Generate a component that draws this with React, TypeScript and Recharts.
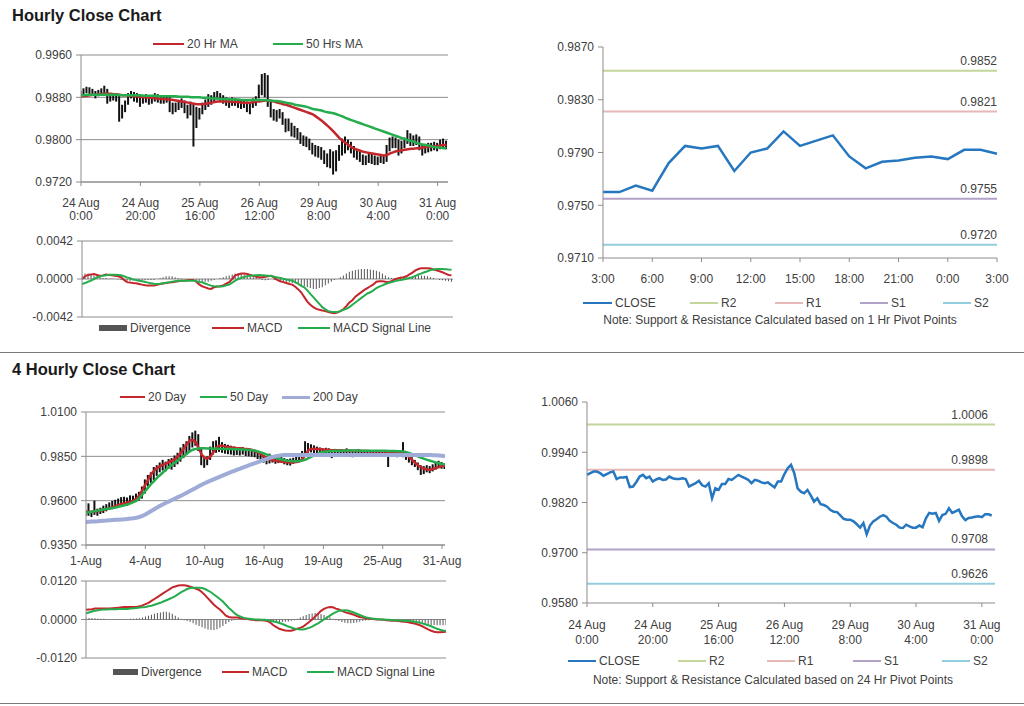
import { ComposedChart, Line, Bar, XAxis, YAxis, CartesianGrid, ReferenceLine } from 'recharts'

const RED = '#c3262b'
const GREEN = '#25ad4d'
const LAVENDER = '#9eacd7'
const BLUE = '#2677bf'
const AXIS = '#8c8c8c'
const TEXT = '#404040'
const PIVOT_COLORS = ['#c3d69b', '#e6b9b8', '#b3a2c7', '#93cddd']

// ---- hourly series, 24 Aug 0:00 -> 31 Aug 3:00 (price in 0.0001 units) ----
const hourClose = [
  9886, 9890, 9894, 9894, 9890, 9884, 9888, 9892, 9894, 9876,
  9880, 9880, 9881, 9857, 9858, 9869, 9882, 9886, 9878, 9882,
  9870, 9875, 9878, 9874, 9875, 9882, 9878, 9876, 9876, 9878,
  9876, 9858, 9862, 9866, 9872, 9861, 9858, 9866, 9830, 9854,
  9850, 9864, 9864, 9876, 9874, 9880, 9886, 9882, 9878, 9874,
  9866, 9874, 9872, 9868, 9866, 9868, 9862, 9856, 9870, 9870,
  9888, 9902, 9910, 9890, 9854, 9846, 9842, 9850, 9837, 9822,
  9830, 9816, 9814, 9810, 9802, 9798, 9797, 9789, 9781, 9779,
  9779, 9775, 9768, 9760, 9771, 9744, 9765, 9775, 9780, 9786,
  9790, 9786, 9776, 9771, 9767, 9760, 9759, 9767, 9763, 9760,
  9760, 9765, 9761, 9782, 9795, 9793, 9795, 9776, 9790, 9793,
  9806, 9795, 9799, 9803, 9787, 9778, 9783, 9784, 9786, 9787,
  9785, 9792, 9792, 9789,
]
const hourHigh = [
  9892, 9897, 9900, 9899, 9896, 9892, 9894, 9897, 9902, 9896,
  9886, 9888, 9887, 9884, 9866, 9874, 9888, 9892, 9890, 9888,
  9884, 9882, 9886, 9882, 9882, 9888, 9886, 9882, 9882, 9884,
  9882, 9870, 9870, 9874, 9878, 9874, 9866, 9872, 9868, 9862,
  9860, 9870, 9876, 9886, 9884, 9890, 9892, 9888, 9884, 9880,
  9878, 9880, 9878, 9876, 9874, 9876, 9872, 9870, 9878, 9882,
  9904, 9924, 9926, 9922, 9872, 9858, 9856, 9858, 9852, 9840,
  9840, 9832, 9826, 9822, 9814, 9808, 9806, 9802, 9794, 9790,
  9788, 9786, 9780, 9774, 9782, 9778, 9780, 9790, 9802, 9806,
  9800, 9796, 9788, 9782, 9778, 9772, 9770, 9776, 9774, 9770,
  9768, 9772, 9770, 9790, 9804, 9806, 9804, 9800, 9798, 9804,
  9818, 9812, 9808, 9810, 9806, 9790, 9792, 9794, 9794, 9796,
  9794, 9800, 9802, 9798,
]
const hourLow = [
  9880, 9884, 9888, 9886, 9884, 9878, 9882, 9886, 9888, 9868,
  9872, 9874, 9872, 9834, 9840, 9852, 9866, 9878, 9872, 9870,
  9862, 9868, 9870, 9866, 9868, 9872, 9870, 9868, 9868, 9870,
  9852, 9848, 9852, 9856, 9860, 9850, 9840, 9846, 9787, 9822,
  9838, 9848, 9856, 9862, 9866, 9872, 9876, 9872, 9868, 9864,
  9860, 9864, 9864, 9860, 9858, 9860, 9852, 9848, 9860, 9864,
  9878, 9884, 9880, 9862, 9842, 9836, 9834, 9840, 9828, 9814,
  9816, 9806, 9804, 9800, 9792, 9788, 9786, 9780, 9772, 9768,
  9766, 9762, 9754, 9748, 9746, 9734, 9740, 9760, 9770, 9774,
  9780, 9774, 9766, 9762, 9758, 9752, 9752, 9756, 9754, 9752,
  9752, 9756, 9754, 9758, 9778, 9784, 9784, 9770, 9774, 9784,
  9792, 9788, 9788, 9790, 9780, 9770, 9774, 9776, 9778, 9780,
  9778, 9782, 9784, 9782,
]
const hourMa20 = [
  9882, 9882, 9883, 9884, 9885, 9885, 9886, 9886, 9887, 9887,
  9887, 9886, 9886, 9885, 9884, 9884, 9883, 9883, 9882, 9882,
  9881, 9880, 9880, 9879, 9879, 9878, 9878, 9877, 9877, 9876,
  9876, 9875, 9874, 9873, 9872, 9871, 9870, 9869, 9868, 9867,
  9867, 9867, 9868, 9869, 9870, 9871, 9872, 9872, 9872, 9872,
  9872, 9871, 9871, 9871, 9870, 9870, 9870, 9870, 9871, 9872,
  9872, 9873, 9874, 9874, 9873, 9872, 9870, 9869, 9867, 9866,
  9864, 9862, 9860, 9858, 9856, 9854, 9852, 9850, 9848, 9844,
  9840, 9836, 9831, 9826, 9821, 9815, 9809, 9803, 9798, 9794,
  9790, 9786, 9783, 9781, 9779, 9777, 9776, 9775, 9774, 9773,
  9772, 9771, 9770, 9771, 9774, 9776, 9778, 9779, 9780, 9781,
  9782, 9783, 9783, 9784, 9784, 9785, 9786, 9786, 9787, 9787,
  9788, 9789, 9790, 9790,
]
const hourMa50 = [
  9884, 9884, 9885, 9885, 9885, 9885, 9885, 9885, 9885, 9885,
  9885, 9885, 9885, 9884, 9884, 9884, 9884, 9884, 9884, 9884,
  9884, 9883, 9883, 9883, 9883, 9883, 9882, 9882, 9882, 9882,
  9882, 9882, 9882, 9881, 9881, 9881, 9881, 9880, 9880, 9880,
  9880, 9879, 9879, 9879, 9878, 9878, 9878, 9877, 9877, 9877,
  9876, 9876, 9876, 9876, 9875, 9875, 9875, 9875, 9875, 9875,
  9875, 9875, 9875, 9874, 9874, 9873, 9873, 9872, 9871, 9870,
  9869, 9868, 9866, 9865, 9864, 9863, 9862, 9860, 9858, 9857,
  9856, 9855, 9853, 9852, 9851, 9850, 9848, 9846, 9844, 9841,
  9839, 9837, 9835, 9833, 9831, 9829, 9827, 9825, 9823, 9821,
  9819, 9817, 9815, 9813, 9811, 9809, 9807, 9805, 9803, 9801,
  9799, 9798, 9796, 9794, 9792, 9791, 9790, 9789, 9787, 9786,
  9785, 9785, 9784, 9784,
]
// MACD panel values in 0.0001 units
const hourMacd = [
  0, 3, 4.5, 5, 5.5, 4.5, 3.5, 4, 5, 4.5,
  4, 3.5, 3, 2, -1, -3.5, -4, -4.5, -4.8, -5.5,
  -6.2, -6.8, -7.2, -7.3, -7.3, -6.5, -5.5, -5, -4.5, -4,
  -3.7, -3, -2.5, -2, -1.8, -1.5, -1.2, -1.1, -3, -6,
  -8, -9.2, -10.5, -11, -9, -8.4, -8, -7, -5, -3.5,
  0, 4, 5, 6, 6, 5.5, 4.5, 3.5, 2.5, 1.8,
  2, 2.6, 3, 3.5, 1.5, -1, -2.5, -3.5, -4.5, -5.5,
  -6.2, -8.5, -11.5, -15, -20, -25, -28.5, -31, -33, -34,
  -34.8, -35.5, -36.5, -37.2, -37.7, -37, -35.5, -33.5, -30, -26,
  -23.5, -19.5, -17, -14.5, -12, -10, -8, -6, -3, -2.6,
  -2.6, -3, -3.5, -2.5, -0.5, 0.5, 1.5, 2, 3, 5,
  7, 9.5, 11, 12, 12, 12, 11.5, 10.5, 9.5, 8.5,
  7.5, 6, 4.5, 4,
]
const hourSignal = [
  -5.5, -4.5, -3, -1.8, 0, 1.8, 2.8, 3.7, 4.2, 4.8,
  4.8, 4.6, 4.4, 4.2, 3, 1.8, 0.8, -0.4, -1.2, -2,
  -2.6, -3.3, -4, -4.8, -5.2, -5.5, -5.3, -4.8, -4.2, -3.6,
  -2.9, -2.4, -2, -1.8, -1.8, -1.8, -1.8, -1.8, -2.4, -3.3,
  -3.7, -5, -6.2, -7.3, -8, -8.4, -8.4, -8, -7, -6.2,
  -4, -1.8, -0.2, 1.1, 2.2, 3.2, 3.7, 4, 4.2, 4.4,
  4.2, 4, 3.7, 3.2, 2.5, 1.8, 1, 0.2, -0.5, -1.1,
  -2, -3.5, -5.5, -7.5, -9.2, -12.5, -16.5, -20, -23.8, -27.5,
  -31.1, -33.5, -35.5, -36.2, -36.6, -36.4, -35.5, -34, -33, -31,
  -28.5, -26, -23.5, -20.9, -18.5, -16, -14.7, -12.5, -10, -8.4,
  -7, -5.5, -4.5, -3.5, -2.6, -1.8, -1.1, -0.5, 0.2, 1,
  2, 3.5, 5, 6.2, 7.5, 8.6, 9.9, 10.5, 11, 11,
  11, 10.8, 10.5, 10.3,
]
const hourDiv = [
  5, 6, 6, 5, 4, 3, 2, 1, 1, 0.5,
  0.5, 0, -0.5, -1, -1.5, -2, -2.5, -2, -2, -2,
  -2, -1.5, -1, -1, -1, 0, 1, 2, 3, 3,
  3, 2, 1, 0.5, 0, 0, -1, -1.5, -2, -3,
  -3, -3, -3, -2, -1, 0, 1, 2, 3, 4,
  5, 6, 6.5, 6, 5, 4, 3, 2, 1, 0,
  -1, -1.5, -1, 0, -1, -2, -2.5, -3, -3.5, -4,
  -4.5, -5, -6, -7, -8, -9, -10, -11, -11, -10,
  -9, -7, -5, -3, -1, 0, 2, 4, 6, 8,
  9, 10, 10.5, 11, 11, 11, 10.5, 10, 9, 8,
  6, 4, 2, 1, 0.5, 0.5, 1, 1.5, 2, 2.5,
  3, 3.5, 4, 4, 3.5, 3, 2, 1, 0, -1,
  -1.5, -2, -2.5, -3,
]
const hourTickDates = ['24 Aug', '24 Aug', '25 Aug', '26 Aug', '29 Aug', '30 Aug', '31 Aug']
const hourTickTimes = ['0:00', '20:00', '16:00', '12:00', '8:00', '4:00', '0:00']
const lastDayHours = [
  '3:00', '4:00', '5:00', '6:00', '7:00', '8:00', '9:00', '10:00', '11:00', '12:00',
  '13:00', '14:00', '15:00', '16:00', '17:00', '18:00', '19:00', '20:00', '21:00', '22:00',
  '23:00', '0:00', '1:00', '2:00', '3:00',
]
const hourPriceTicks = [0.972, 0.98, 0.988, 0.996]
const hourMacdTicks = [-0.0042, 0, 0.0042]
const lastDayTicks = [0.971, 0.975, 0.979, 0.983, 0.987]
const dayChartTicks = [0.958, 0.97, 0.982, 0.994, 1.006]
const pivotNames = ['R2', 'R1', 'S1', 'S2']
const pivot1h = [0.9852, 0.9821, 0.9755, 0.972]
const pivot24h = [1.0006, 0.9898, 0.9708, 0.9626]

// ---- 4 hourly series, 1 Aug -> 31 Aug ----
const fourHigh = [
  9548, 9585, 9540, 9600, 9555, 9560, 9572, 9580, 9590, 9598,
  9605, 9612, 9620, 9622, 9618, 9630, 9628, 9640, 9650, 9680,
  9720, 9745, 9760, 9790, 9800, 9815, 9830, 9820, 9835, 9840,
  9855, 9870, 9900, 9920, 9935, 9965, 9985, 9995, 9975, 9900,
  9840, 9850, 9905, 9935, 9940, 9960, 9930, 9920, 9915, 9910,
  9905, 9900, 9898, 9902, 9895, 9890, 9888, 9885, 9875, 9865,
  9858, 9850, 9865, 9850, 9848, 9845, 9850, 9840, 9835, 9838,
  9842, 9850, 9860, 9880, 9935, 9925, 9918, 9912, 9905, 9900,
  9895, 9898, 9895, 9890, 9892, 9888, 9890, 9885, 9895, 9888,
  9882, 9885, 9890, 9886, 9882, 9882, 9885, 9880, 9878, 9876,
  9878, 9875, 9872, 9874, 9870, 9880, 9880, 9930, 9870, 9860,
  9845, 9830, 9815, 9800, 9795, 9800, 9795, 9805, 9815, 9825,
  9818, 9812,
]
const fourLow = [
  9512, 9515, 9508, 9520, 9515, 9525, 9530, 9540, 9548, 9552,
  9560, 9565, 9575, 9578, 9570, 9582, 9588, 9592, 9600, 9612,
  9640, 9680, 9700, 9715, 9740, 9760, 9770, 9765, 9780, 9775,
  9790, 9805, 9820, 9840, 9860, 9880, 9900, 9910, 9880, 9800,
  9785, 9800, 9830, 9860, 9870, 9875, 9870, 9865, 9862, 9860,
  9855, 9858, 9855, 9860, 9852, 9850, 9848, 9845, 9835, 9825,
  9815, 9805, 9810, 9815, 9808, 9812, 9815, 9805, 9800, 9798,
  9808, 9815, 9825, 9840, 9860, 9870, 9872, 9868, 9865, 9860,
  9850, 9858, 9862, 9840, 9855, 9860, 9862, 9858, 9860, 9862,
  9845, 9858, 9860, 9862, 9858, 9858, 9860, 9855, 9858, 9852,
  9855, 9850, 9790, 9852, 9848, 9845, 9850, 9845, 9830, 9815,
  9800, 9790, 9772, 9745, 9750, 9760, 9755, 9765, 9775, 9785,
  9780, 9778,
]
const fourMa20 = [
  9535, 9537, 9538, 9540, 9542, 9545, 9549, 9553, 9558, 9563,
  9570, 9576, 9581, 9585, 9590, 9594, 9600, 9610, 9630, 9660,
  9690, 9720, 9750, 9770, 9785, 9795, 9803, 9810, 9818, 9825,
  9835, 9850, 9870, 9895, 9920, 9940, 9942, 9930, 9895, 9860,
  9842, 9838, 9850, 9876, 9900, 9910, 9910, 9905, 9902, 9900,
  9898, 9896, 9895, 9893, 9892, 9890, 9886, 9880, 9872, 9862,
  9850, 9840, 9832, 9828, 9825, 9822, 9820, 9818, 9816, 9815,
  9816, 9818, 9822, 9835, 9860, 9885, 9892, 9893, 9892, 9890,
  9888, 9887, 9886, 9885, 9885, 9884, 9884, 9883, 9883, 9882,
  9882, 9881, 9881, 9880, 9880, 9880, 9879, 9879, 9878, 9878,
  9877, 9877, 9876, 9875, 9875, 9874, 9872, 9870, 9860, 9845,
  9828, 9812, 9798, 9788, 9780, 9776, 9775, 9778, 9784, 9790,
  9795, 9797,
]
const fourMa50 = [
  9532, 9535, 9538, 9541, 9544, 9547, 9550, 9553, 9556, 9559,
  9562, 9566, 9570, 9574, 9578, 9585, 9592, 9600, 9615, 9635,
  9655, 9675, 9695, 9712, 9730, 9745, 9760, 9775, 9790, 9803,
  9815, 9828, 9840, 9852, 9865, 9878, 9887, 9892, 9894, 9895,
  9895, 9894, 9894, 9893, 9893, 9893, 9892, 9892, 9891, 9891,
  9890, 9890, 9889, 9888, 9887, 9886, 9884, 9881, 9877, 9872,
  9866, 9860, 9853, 9847, 9841, 9836, 9832, 9828, 9825, 9823,
  9822, 9822, 9823, 9826, 9832, 9840, 9848, 9856, 9864, 9870,
  9874, 9877, 9879, 9880, 9881, 9882, 9882, 9883, 9883, 9883,
  9883, 9883, 9883, 9882, 9882, 9882, 9882, 9882, 9881, 9881,
  9881, 9881, 9880, 9880, 9880, 9879, 9879, 9878, 9874, 9868,
  9862, 9855, 9848, 9842, 9836, 9830, 9825, 9820, 9815, 9811,
  9807, 9805,
]
const fourMa200 = [
  9480, 9481, 9482, 9483, 9484, 9486, 9487, 9488, 9490, 9491,
  9492, 9493, 9494, 9495, 9497, 9499, 9501, 9504, 9508, 9514,
  9522, 9532, 9542, 9552, 9562, 9571, 9580, 9588, 9596, 9604,
  9612, 9620, 9628, 9636, 9645, 9654, 9663, 9672, 9681, 9690,
  9698, 9706, 9713, 9720, 9727, 9734, 9741, 9748, 9755, 9762,
  9768, 9775, 9781, 9788, 9794, 9800, 9806, 9812, 9818, 9824,
  9830, 9836, 9842, 9847, 9851, 9854, 9856, 9857, 9858, 9858,
  9858, 9858, 9858, 9858, 9858, 9858, 9858, 9858, 9858, 9858,
  9858, 9858, 9858, 9858, 9858, 9858, 9858, 9858, 9858, 9858,
  9858, 9858, 9858, 9858, 9858, 9858, 9858, 9858, 9858, 9858,
  9858, 9858, 9858, 9858, 9858, 9858, 9858, 9858, 9858, 9858,
  9858, 9858, 9858, 9857, 9857, 9857, 9857, 9856, 9856, 9855,
  9853, 9850,
]
const fourMacd = [
  30, 31, 32, 34, 34, 34, 34, 34, 34, 35,
  36, 37, 38, 39, 39, 39, 39, 39, 41, 44,
  48, 52, 58, 64, 70, 76, 82, 88, 94, 100,
  103, 106, 107, 107, 105, 102, 99, 96, 92, 85,
  76, 66, 56, 46, 38, 31, 22, 12, 8, 6,
  6, 6, 4, 3, 2, 0, -1, -2, -2, -2,
  -3, -5, -10, -18, -24, -29, -32, -34, -35, -35,
  -32, -29, -26, -22, -15, -8, 0, 9, 18, 27,
  33, 37, 39, 38, 34, 31, 27, 23, 20, 18,
  15, 11, 8, 6, 4, 3, 2, 1, 0, 0,
  -1, -2, -3, -4, -4, -5, -6, -7, -8, -10,
  -12, -14, -17, -21, -26, -31, -35, -38, -40, -40,
  -39, -38,
]
const fourSignal = [
  19, 22, 25, 27, 29, 30, 31, 31, 32, 32,
  32, 33, 33, 33, 33, 34, 35, 36, 37, 38,
  39, 41, 43, 46, 49, 52, 56, 60, 64, 68,
  73, 79, 85, 90, 95, 98, 99, 99, 99, 98,
  95, 90, 85, 78, 71, 64, 56, 46, 36, 28,
  19, 13, 9, 5, 3, 2, 1, 0, 0, -1,
  -1, -2, -4, -6, -8, -11, -14, -18, -22, -25,
  -28, -30, -31, -31, -29, -26, -22, -17, -12, -6,
  0, 6, 12, 18, 23, 27, 28, 29, 28, 25,
  22, 18, 14, 10, 7, 5, 3, 2, 1, 0,
  0, -1, -1, -2, -2, -3, -3, -4, -5, -5,
  -6, -8, -9, -12, -15, -18, -21, -25, -29, -32,
  -34, -35,
]
const fourDiv = [
  6, 5, 5, 4, 3, 2, 2, 1, 1, 1,
  1, 1, 1, 1, 1, 2, 2, 3, 4, 6,
  9, 12, 15, 18, 20, 22, 24, 24, 22, 18,
  12, 6, 2, -2, -5, -8, -12, -16, -20, -24,
  -28, -31, -33, -33, -30, -26, -20, -14, -8, -4,
  -2, -1, 0, 0, 0, 0, -1, -1, -2, -2,
  -3, -4, -5, -6, -7, -8, -8, -7, -6, -4,
  -2, 2, 6, 10, 14, 17, 19, 20, 19, 17,
  14, 10, 6, 2, -2, -5, -8, -10, -12, -12,
  -11, -9, -7, -5, -3, -2, -1, -1, 0, 0,
  -1, -2, -3, -4, -5, -6, -7, -8, -9, -10,
  -11, -12, -13, -14, -15, -16, -17, -17, -18, -18,
  -18, -17,
]
const fourTickDates = ['1-Aug', '4-Aug', '10-Aug', '16-Aug', '19-Aug', '25-Aug', '31-Aug']
const fourPriceTicks = [0.935, 0.96, 0.985, 1.01]
const fourMacdTicks = [-0.012, 0, 0.012]

// ---- tables for recharts ----
const hourRows = hourClose.map((c, i) => ({
  i,
  close: c / 1e4,
  range: [hourLow[i] / 1e4, hourHigh[i] / 1e4],
  ma20: hourMa20[i] / 1e4,
  ma50: hourMa50[i] / 1e4,
  macd: hourMacd[i] / 1e4,
  signal: hourSignal[i] / 1e4,
  div: hourDiv[i] / 1e4,
}))
const lastDayStart = hourClose.length - lastDayHours.length
const lastDayRows = lastDayHours.map((_, k) => ({ i: k, close: hourClose[lastDayStart + k] / 1e4 }))
const fourRows = fourHigh.map((h, i) => ({
  i,
  range: [fourLow[i] / 1e4, h / 1e4],
  ma20: fourMa20[i] / 1e4,
  ma50: fourMa50[i] / 1e4,
  ma200: fourMa200[i] / 1e4,
  macd: fourMacd[i] / 1e4,
  signal: fourSignal[i] / 1e4,
  div: fourDiv[i] / 1e4,
}))
const hourTickIdx = hourTickDates.map((_, k) => k * 20)
const fourTickIdx = fourTickDates.map((_, k) => k * 20)
const lastDayTickIdx = lastDayHours.map((_, k) => k).filter((k) => k % 3 === 0)

const fmt4 = (v: number) => v.toFixed(4)

const DateTick = (props: any) => {
  const { x, y, payload, first, second, step, d1, d2 } = props
  const k = Math.round(payload.value / step)
  return (
    <g>
      <text x={x} y={y + d1} textAnchor="middle" fontSize={12} fill={TEXT}>{first[k]}</text>
      {second && (
        <text x={x} y={y + d2} textAnchor="middle" fontSize={12} fill={TEXT}>{second[k]}</text>
      )}
    </g>
  )
}

const pivotLabel = (text: string, inset: number) => (props: any) => {
  const vb = props && props.viewBox
  if (!vb) return null
  return (
    <text x={vb.x + vb.width - inset} y={vb.y - 6} textAnchor="end" fontSize={12} fill={TEXT}>
      {text}
    </text>
  )
}

type KeyProps = { x: number; y: number; w: number; color: string; label: string; box?: boolean; lw?: number }
const Key = ({ x, y, w, color, label, box, lw = 2 }: KeyProps) => (
  <div style={{ position: 'absolute', left: x, top: y - 8, height: 16, display: 'flex', alignItems: 'center', whiteSpace: 'nowrap', fontSize: 12, color: TEXT }}>
    <span style={{ display: 'inline-block', width: w, height: box ? 6 : lw, background: color, marginRight: 3 }} />
    {label}
  </div>
)

const yAxisProps = {
  type: 'number' as const,
  stroke: AXIS,
  tickSize: 5,
  tickMargin: 4,
  interval: 0 as const,
  tickFormatter: fmt4,
  tick: { fill: TEXT, fontSize: 12 },
  allowDataOverflow: true,
}

const App = () => {
  return (
    <div style={{ position: 'absolute', left: 0, top: 0, width: 1024, height: 706, background: '#fff', overflow: 'hidden', fontFamily: 'Arial, "Liberation Sans", sans-serif' }}>
      <div style={{ position: 'absolute', left: 12, top: 6, fontSize: 16.5, fontWeight: 'bold', color: '#1a1a1a' }}>Hourly Close Chart</div>
      <div style={{ position: 'absolute', left: 12, top: 360, fontSize: 16.5, fontWeight: 'bold', color: '#1a1a1a' }}>4 Hourly Close Chart</div>
      <div style={{ position: 'absolute', left: 0, top: 352, width: 1024, height: 1, background: '#7a7a7a' }} />
      <div style={{ position: 'absolute', left: 0, top: 703, width: 1024, height: 1, background: '#7a7a7a' }} />

      {/* hourly price */}
      <div style={{ position: 'absolute', left: 0, top: 30 }}>
        <ComposedChart width={470} height={200} data={hourRows} margin={{ top: 25, right: 22, bottom: 8, left: 0 }}>
          <CartesianGrid vertical={false} stroke={AXIS} />
          <XAxis dataKey="i" type="number" domain={[0, 123.5]} ticks={hourTickIdx} interval={0} height={40} stroke={AXIS} tickSize={4} tickMargin={2} allowDataOverflow
            tick={(p: any) => <DateTick {...p} first={hourTickDates} second={hourTickTimes} step={20} d1={19} d2={32} />} />
          <YAxis {...yAxisProps} domain={[0.972, 0.996]} ticks={hourPriceTicks} width={81} />
          <Bar dataKey="range" barSize={2} fill="#111" isAnimationActive={false} />
          <Line dataKey="ma20" stroke={RED} strokeWidth={2.5} dot={false} isAnimationActive={false} />
          <Line dataKey="ma50" stroke={GREEN} strokeWidth={2.5} dot={false} isAnimationActive={false} />
        </ComposedChart>
      </div>
      <Key x={153} y={44} w={31} color={RED} label="20 Hr MA" />
      <Key x={273} y={44} w={30} color={GREEN} label="50 Hrs MA" />

      {/* hourly MACD */}
      <div style={{ position: 'absolute', left: 0, top: 230 }}>
        <ComposedChart width={465} height={100} data={hourRows} margin={{ top: 11, right: 12, bottom: 13, left: 0 }}>
          <CartesianGrid vertical={false} stroke={AXIS} />
          <XAxis dataKey="i" type="number" domain={[0, 123.5]} hide allowDataOverflow />
          <YAxis {...yAxisProps} domain={[-0.0042, 0.0042]} ticks={hourMacdTicks} width={82} />
          <Bar dataKey="div" barSize={1} fill="#555" isAnimationActive={false} />
          <Line dataKey="macd" stroke={RED} strokeWidth={2} dot={false} isAnimationActive={false} />
          <Line dataKey="signal" stroke={GREEN} strokeWidth={2} dot={false} isAnimationActive={false} />
        </ComposedChart>
      </div>
      <Key x={99} y={328} w={28} color="#555" label="Divergence" box />
      <Key x={212} y={328} w={32} color={RED} label="MACD" />
      <Key x={298} y={328} w={32} color={GREEN} label="MACD Signal Line" />

      {/* last day, 1 hr pivots */}
      <div style={{ position: 'absolute', left: 520, top: 30 }}>
        <ComposedChart width={500} height={270} data={lastDayRows} margin={{ top: 17, right: 23, bottom: 17, left: 0 }}>
          <XAxis dataKey="i" type="number" domain={[0, lastDayHours.length - 1]} ticks={lastDayTickIdx} interval={0} height={25} stroke={AXIS} tickSize={4} tickMargin={2}
            tick={(p: any) => <DateTick {...p} first={lastDayHours} step={1} d1={19} />} />
          <YAxis {...yAxisProps} domain={[0.971, 0.987]} ticks={lastDayTicks} width={83} />
          {pivot1h.map((v, k) => (
            <ReferenceLine key={pivotNames[k]} y={v} stroke={PIVOT_COLORS[k]} strokeWidth={2} label={pivotLabel(fmt4(v), 0)} />
          ))}
          <Line dataKey="close" stroke={BLUE} strokeWidth={2.5} dot={false} isAnimationActive={false} />
        </ComposedChart>
      </div>
      <Key x={583} y={303} w={29} color={BLUE} label="CLOSE" lw={2.5} />
      {pivotNames.map((n, k) => (
        <Key key={n} x={[690, 775, 860, 943][k]} y={303} w={28} color={PIVOT_COLORS[k]} label={n} />
      ))}
      <div style={{ position: 'absolute', left: 560, width: 440, top: 313, textAlign: 'center', fontSize: 12, color: TEXT }}>
        Note: Support &amp; Resistance Calculated based on 1 Hr Pivot Points
      </div>

      {/* 4 hourly price */}
      <div style={{ position: 'absolute', left: 0, top: 390 }}>
        <ComposedChart width={480} height={190} data={fourRows} margin={{ top: 22, right: 35, bottom: 10, left: 0 }}>
          <CartesianGrid vertical={false} stroke={AXIS} />
          <XAxis dataKey="i" type="number" domain={[0, fourRows.length - 1]} ticks={fourTickIdx} interval={0} height={25} stroke={AXIS} tickSize={4} tickMargin={2} allowDataOverflow
            tick={(p: any) => <DateTick {...p} first={fourTickDates} step={20} d1={14} />} />
          <YAxis {...yAxisProps} domain={[0.935, 1.01]} ticks={fourPriceTicks} width={86} />
          <Bar dataKey="range" barSize={2} fill="#111" isAnimationActive={false} />
          <Line dataKey="ma20" stroke={RED} strokeWidth={2.5} dot={false} isAnimationActive={false} />
          <Line dataKey="ma50" stroke={GREEN} strokeWidth={2.5} dot={false} isAnimationActive={false} />
          <Line dataKey="ma200" stroke={LAVENDER} strokeWidth={4} dot={false} isAnimationActive={false} />
        </ComposedChart>
      </div>
      <Key x={120} y={397} w={25} color={RED} label="20 Day" />
      <Key x={200} y={397} w={27} color={GREEN} label="50 Day" />
      <Key x={282} y={397} w={28} color={LAVENDER} label="200 Day" lw={3} />

      {/* 4 hourly MACD */}
      <div style={{ position: 'absolute', left: 0, top: 570 }}>
        <ComposedChart width={460} height={100} data={fourRows} margin={{ top: 11, right: 14, bottom: 12, left: 0 }}>
          <CartesianGrid vertical={false} stroke={AXIS} />
          <XAxis dataKey="i" type="number" domain={[0, fourRows.length - 1]} hide allowDataOverflow />
          <YAxis {...yAxisProps} domain={[-0.012, 0.012]} ticks={fourMacdTicks} width={86} />
          <Bar dataKey="div" barSize={1} fill="#555" isAnimationActive={false} />
          <Line dataKey="macd" stroke={RED} strokeWidth={2} dot={false} isAnimationActive={false} />
          <Line dataKey="signal" stroke={GREEN} strokeWidth={2} dot={false} isAnimationActive={false} />
        </ComposedChart>
      </div>
      <Key x={113} y={672} w={25} color="#555" label="Divergence" box />
      <Key x={222} y={672} w={27} color={RED} label="MACD" />
      <Key x={307} y={672} w={27} color={GREEN} label="MACD Signal Line" />

      {/* hourly close, 24 hr pivots */}
      <div style={{ position: 'absolute', left: 520, top: 390 }}>
        <ComposedChart width={500} height={260} data={hourRows} margin={{ top: 12, right: 25, bottom: 7, left: 0 }}>
          <XAxis dataKey="i" type="number" domain={[0, 124]} ticks={hourTickIdx} interval={0} height={40} stroke={AXIS} tickSize={4} tickMargin={2}
            tick={(p: any) => <DateTick {...p} first={hourTickDates} second={hourTickTimes} step={20} d1={20} d2={35} />} />
          <YAxis {...yAxisProps} domain={[0.958, 1.006]} ticks={dayChartTicks} width={67} />
          {pivot24h.map((v, k) => (
            <ReferenceLine key={pivotNames[k]} y={v} stroke={PIVOT_COLORS[k]} strokeWidth={2} label={pivotLabel(fmt4(v), 7)} />
          ))}
          <Line dataKey="close" stroke={BLUE} strokeWidth={2.5} dot={false} isAnimationActive={false} />
        </ComposedChart>
      </div>
      <Key x={568} y={661} w={28} color={BLUE} label="CLOSE" lw={2.5} />
      {pivotNames.map((n, k) => (
        <Key key={n} x={[678, 767, 853, 942][k]} y={661} w={28} color={PIVOT_COLORS[k]} label={n} />
      ))}
      <div style={{ position: 'absolute', left: 553, width: 440, top: 673, textAlign: 'center', fontSize: 12, color: TEXT }}>
        Note: Support &amp; Resistance Calculated based on 24 Hr Pivot Points
      </div>
    </div>
  )
}

export default App
